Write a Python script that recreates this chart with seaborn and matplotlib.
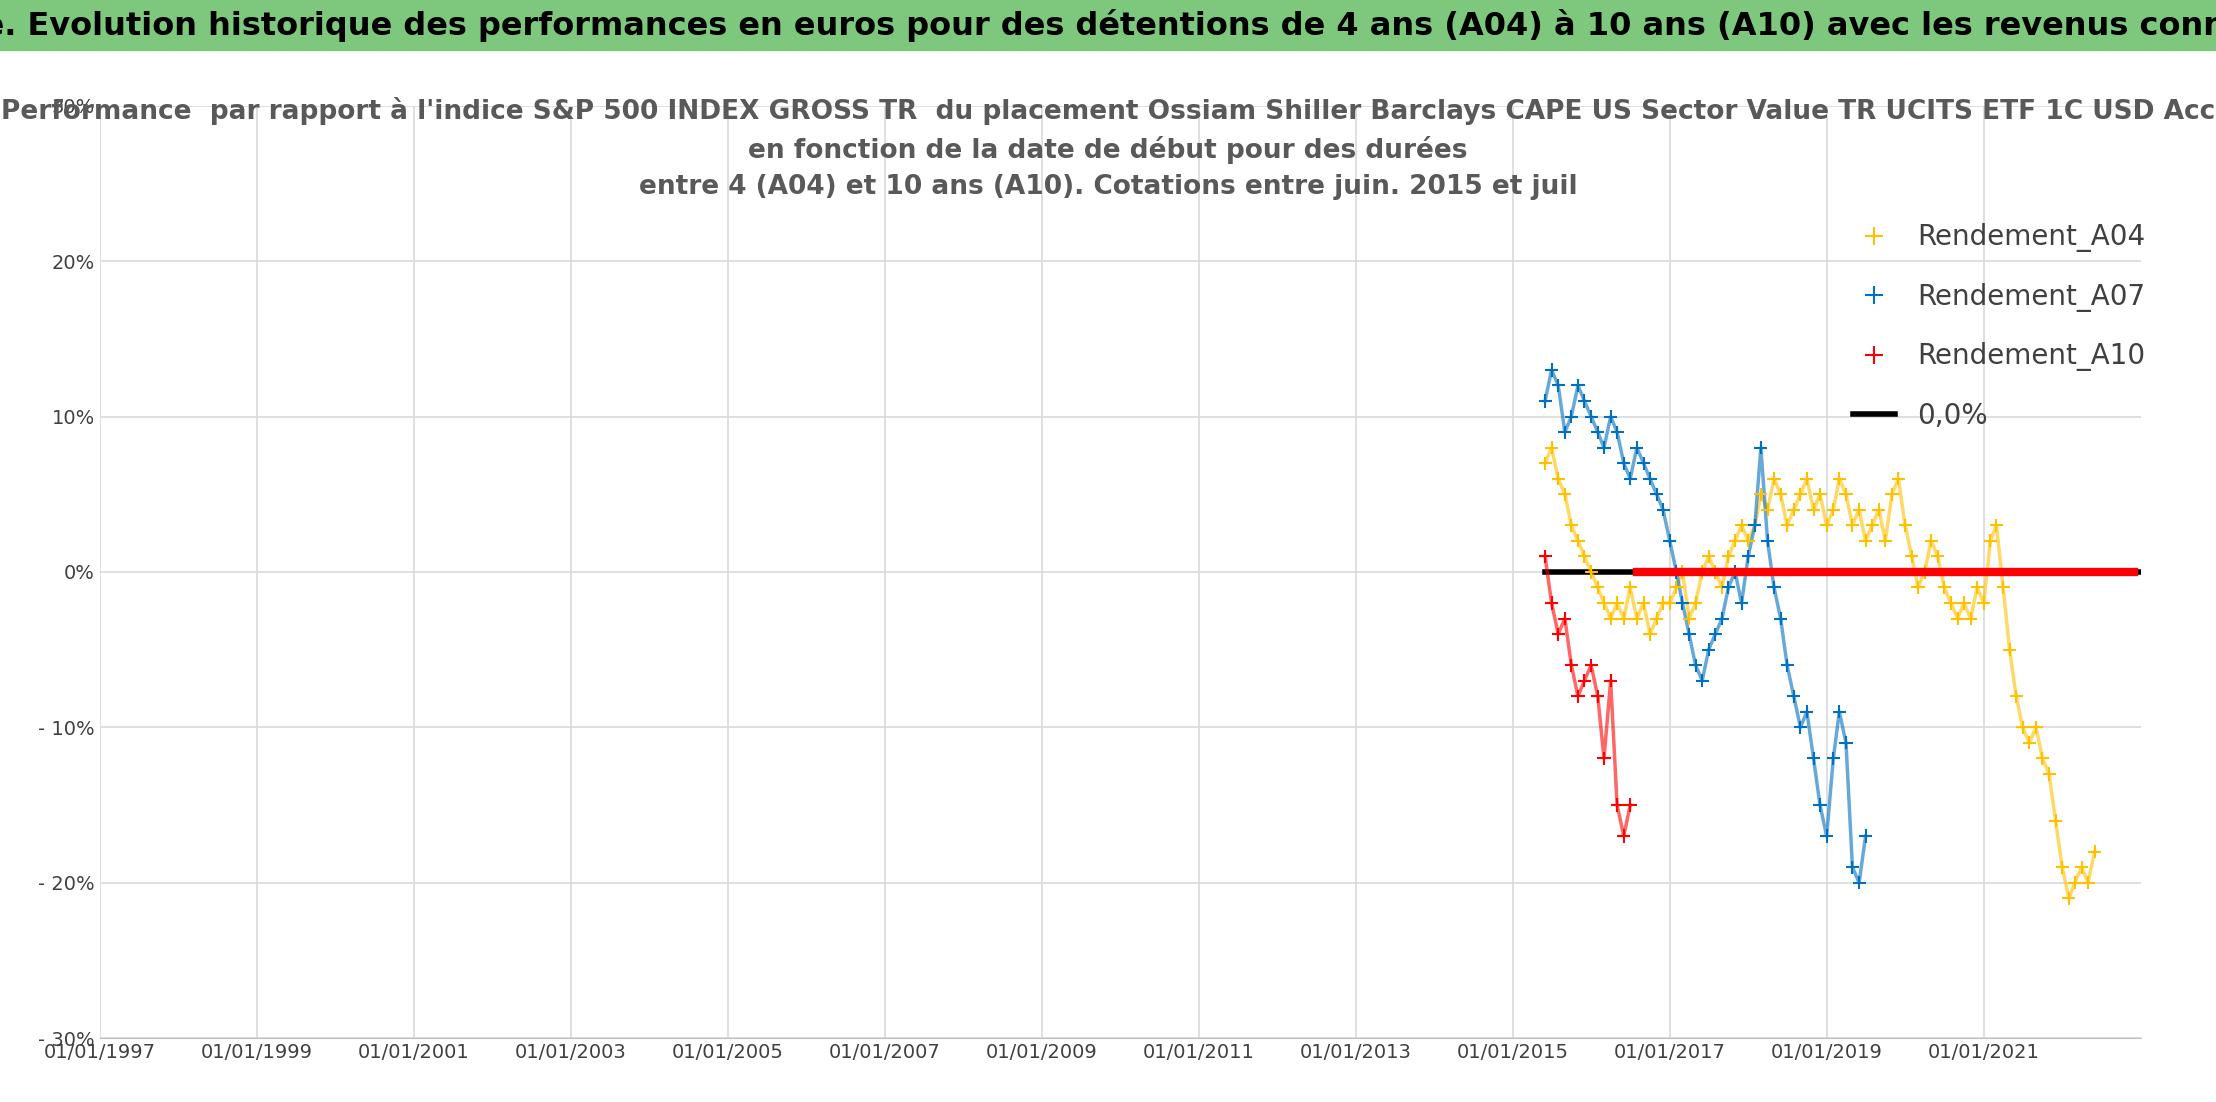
import pandas as pd
import matplotlib
matplotlib.use("Agg")
import matplotlib.pyplot as plt
import matplotlib.dates as mdates
import seaborn as sns
from matplotlib.ticker import FuncFormatter, FixedLocator

# valeurs mensuelles (en %)
a04_start = "2015-06-01"
a04 = [7, 8, 6, 5, 3, 2, 1,
       0, -1, -2, -3, -2, -3, -1, -3, -2, -4, -3, -2,
       -2, -1, 0, -3, -2, 0, 1, 0, -1, 1, 2, 3,
       2, 3, 5, 4, 6, 5, 3, 4, 5, 6, 4, 5,
       3, 4, 6, 5, 3, 4, 2, 3, 4, 2, 5, 6,
       3, 1, -1, 0, 2, 1, -1, -2, -3, -2, -3, -1,
       -2, 2, 3, -1, -5, -8, -10, -11, -10, -12, -13, -16,
       -19, -21, -20, -19, -20, -18]
a07_start = "2015-06-01"
a07 = [11, 13, 12, 9, 10, 12, 11,
       10, 9, 8, 10, 9, 7, 6, 8, 7, 6, 5, 4,
       2, 0, -2, -4, -6, -7, -5, -4, -3, -1, 0, -2,
       1, 3, 8, 2, -1, -3, -6, -8, -10, -9, -12, -15,
       -17, -12, -9, -11, -19, -20, -17]
a10_start = "2015-06-01"
a10 = [1, -2, -4, -3, -6, -8, -7, -6, -8, -12, -7, -15, -17, -15]
a10_zero_start = "2016-08-01"
a10_zero = [0.0] * 77
ref_dates = ["2015-06-01", "2022-12-31"]
ref_vals = [0.0, 0.0]
tick_years = ["1997", "1999", "2001", "2003", "2005", "2007", "2009",
              "2011", "2013", "2015", "2017", "2019", "2021"]

plt.rcParams["font.family"] = ["Liberation Sans Narrow", "DejaVu Sans"]

def serie(start, vals, name):
    d = pd.date_range(start, periods=len(vals), freq="MS")
    return pd.DataFrame({"date": d, "val": [v / 100 for v in vals], "serie": name})

df = pd.concat([serie(a04_start, a04, "Rendement_A04"),
                serie(a07_start, a07, "Rendement_A07"),
                serie(a10_start, a10, "Rendement_A10")], ignore_index=True)
zero = serie(a10_zero_start, a10_zero, "Rendement_A10")

couleurs = {"Rendement_A04": "#FFC000", "Rendement_A07": "#0070C0", "Rendement_A10": "#FF0000"}

fig = plt.figure(figsize=(22.16, 11.02), dpi=100)
ax = fig.add_axes([0.045, 0.058, 0.921, 0.846])

ax.plot(pd.to_datetime(ref_dates), ref_vals, color="black", lw=4, label="0,0%", zorder=2)
for nom, c in couleurs.items():
    sub = df[df["serie"] == nom]
    ax.plot(sub["date"], sub["val"], color=c, lw=2.5, alpha=0.6, zorder=3)
sns.scatterplot(data=df, x="date", y="val", hue="serie", palette=couleurs, marker="+",
                s=90, linewidth=1.5, ax=ax, zorder=4)
ax.plot(zero["date"], zero["val"], color="#FF0000", lw=6, zorder=5)

ax.set_xlim(pd.Timestamp("1997-01-01"), pd.Timestamp("2023-01-01"))
ax.set_ylim(-0.3, 0.3)
ax.set_yticks([-0.3, -0.2, -0.1, 0, 0.1, 0.2, 0.3])
ax.yaxis.set_major_formatter(FuncFormatter(
    lambda v, p: "0%" if abs(v) < 1e-9 else (f"{v*100:.0f}%" if v > 0 else f"- {abs(v)*100:.0f}%")))
ax.xaxis.set_major_locator(FixedLocator(mdates.date2num(pd.to_datetime([y + "-01-01" for y in tick_years]))))
ax.xaxis.set_major_formatter(mdates.DateFormatter("%d/%m/%Y"))
ax.grid(True, color="#D9D9D9", lw=1.2)
ax.set_axisbelow(True)
for s in ["top", "right", "left"]:
    ax.spines[s].set_visible(False)
ax.spines["bottom"].set_color("#BFBFBF")
ax.tick_params(axis="both", labelsize=14, colors="#404040", length=0)
ax.set_xlabel("")
ax.set_ylabel("")

h, l = ax.get_legend_handles_labels()
order = [l.index(n) for n in ["Rendement_A04", "Rendement_A07", "Rendement_A10", "0,0%"]]
leg = ax.legend([h[i] for i in order], [l[i] for i in order], loc="upper left",
                bbox_to_anchor=(0.825, 0.82), bbox_transform=fig.transFigure,
                frameon=False, fontsize=20, labelspacing=1.1, markerscale=1.3, handlelength=1.5)
for t in leg.get_texts():
    t.set_color("#404040")

fig.patches.append(plt.Rectangle((0, 0.955), 1, 0.045, transform=fig.transFigure,
                                 color="#7DC87D", zorder=0))
fig.text(0.5, 0.977, "ADAM Informe. Evolution historique des performances en euros pour des détentions "
         "de 4 ans (A04) à 10 ans (A10) avec les revenus connus capitalisés",
         ha="center", va="center", fontsize=23, fontweight="bold", color="black")
fig.text(0.5, 0.865, "Performance  par rapport à l'indice S&P 500 INDEX GROSS TR  du placement Ossiam "
         "Shiller Barclays CAPE US Sector Value TR UCITS ETF 1C USD Acc\nen fonction de la date de début "
         "pour des durées\nentre 4 (A04) et 10 ans (A10). Cotations entre juin. 2015 et juil",
         ha="center", va="center", fontsize=19, fontweight="bold", color="#595959", linespacing=1.5)

fig.savefig("out.png", dpi=100)
